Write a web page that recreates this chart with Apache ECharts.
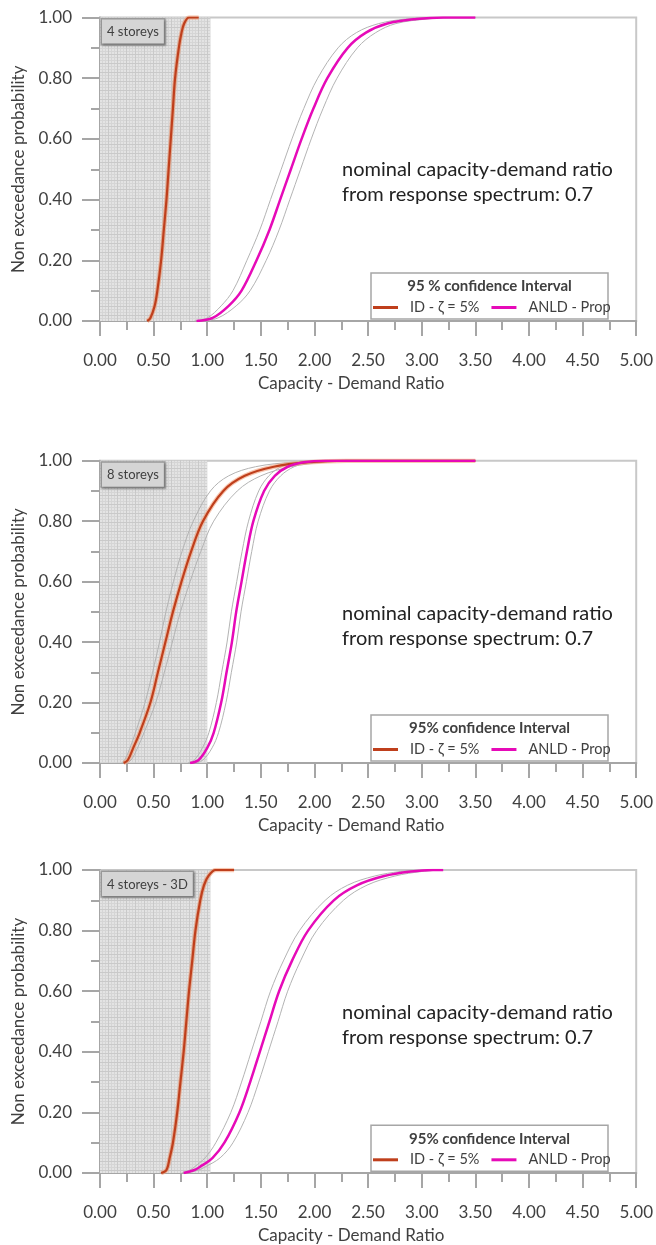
<!DOCTYPE html>
<html>
<head>
<meta charset="utf-8">
<script src="https://cdn.jsdelivr.net/npm/echarts@6/dist/echarts.min.js"></script>
<style>html,body{margin:0;padding:0;background:#fff}#c{width:656px;height:1245px}</style>
</head>
<body>
<div id="c"></div>
<script>
// ---------- DATA ----------
const xTicks = [0, 0.5, 1, 1.5, 2, 2.5, 3, 3.5, 4, 4.5, 5];
const yTicks = [0, 0.2, 0.4, 0.6, 0.8, 1.0];
const panelLabels = ['4 storeys', '8 storeys', '4 storeys - 3D'];
const legendTitles = ['95 % confidence Interval', '95% confidence Interval', '95% confidence Interval'];
const seriesNames = ['ID - \u03b6 = 5%', 'ANLD - Prop'];
const noteLines = ['nominal capacity-demand ratio', 'from response spectrum: 0.7'];
const shadedUpTo = [1.03, 1.0, 1.03];

// Panel 1 : 4 storeys
const p1_id = [[0.44,0],[0.47,0.01],[0.51,0.05],[0.535,0.10],[0.57,0.20],[0.595,0.30],[0.62,0.40],[0.64,0.50],[0.66,0.60],[0.68,0.70],[0.70,0.80],[0.735,0.90],[0.76,0.95],[0.785,0.98],[0.83,1.0],[0.92,1.0]];
const p1_id_lo = [[0.43,0],[0.46,0.01],[0.50,0.05],[0.523,0.10],[0.558,0.20],[0.583,0.30],[0.608,0.40],[0.628,0.50],[0.648,0.60],[0.668,0.70],[0.688,0.80],[0.723,0.90],[0.748,0.95],[0.773,0.98],[0.82,1.0],[0.92,1.0]];
const p1_id_hi = [[0.45,0],[0.48,0.01],[0.52,0.05],[0.547,0.10],[0.582,0.20],[0.607,0.30],[0.632,0.40],[0.652,0.50],[0.672,0.60],[0.692,0.70],[0.712,0.80],[0.747,0.90],[0.772,0.95],[0.797,0.98],[0.84,1.0],[0.92,1.0]];
const p1_anld = [[0.90,0],[1.05,0.01],[1.20,0.05],[1.32,0.10],[1.46,0.20],[1.58,0.30],[1.68,0.40],[1.78,0.50],[1.88,0.60],[1.99,0.70],[2.12,0.80],[2.31,0.90],[2.48,0.95],[2.68,0.98],[2.95,0.995],[3.20,1.0],[3.50,1.0]];
const p1_anld_lo = [[0.88,0],[1.00,0.01],[1.13,0.05],[1.24,0.10],[1.37,0.20],[1.49,0.30],[1.59,0.40],[1.69,0.50],[1.79,0.60],[1.90,0.70],[2.03,0.80],[2.22,0.90],[2.39,0.95],[2.60,0.98],[2.85,0.995],[3.10,1.0],[3.50,1.0]];
const p1_anld_hi = [[0.95,0],[1.10,0.01],[1.27,0.05],[1.40,0.10],[1.55,0.20],[1.67,0.30],[1.77,0.40],[1.87,0.50],[1.97,0.60],[2.08,0.70],[2.21,0.80],[2.40,0.90],[2.57,0.95],[2.76,0.98],[3.05,0.995],[3.30,1.0],[3.50,1.0]];

// Panel 2 : 8 storeys
const p2_id = [[0.22,0],[0.26,0.01],[0.31,0.05],[0.37,0.10],[0.47,0.20],[0.54,0.30],[0.61,0.40],[0.68,0.50],[0.76,0.60],[0.85,0.70],[0.96,0.80],[1.15,0.90],[1.35,0.95],[1.62,0.98],[1.95,0.995],[2.30,1.0],[3.50,1.0]];
const p2_id_lo = [[0.20,0],[0.23,0.01],[0.28,0.05],[0.33,0.10],[0.42,0.20],[0.49,0.30],[0.555,0.40],[0.615,0.50],[0.685,0.60],[0.765,0.70],[0.87,0.80],[1.03,0.90],[1.20,0.95],[1.45,0.98],[1.80,0.995],[2.20,1.0],[3.50,1.0]];
const p2_id_hi = [[0.24,0],[0.29,0.01],[0.35,0.05],[0.41,0.10],[0.52,0.20],[0.60,0.30],[0.675,0.40],[0.75,0.50],[0.84,0.60],[0.94,0.70],[1.06,0.80],[1.28,0.90],[1.50,0.95],[1.78,0.98],[2.10,0.995],[2.45,1.0],[3.50,1.0]];
const p2_anld = [[0.84,0],[0.92,0.01],[1.00,0.05],[1.06,0.10],[1.13,0.20],[1.18,0.30],[1.23,0.40],[1.27,0.50],[1.32,0.60],[1.37,0.70],[1.43,0.80],[1.53,0.90],[1.63,0.95],[1.75,0.98],[1.90,0.995],[2.10,1.0],[3.50,1.0]];
const p2_anld_lo = [[0.82,0],[0.88,0.01],[0.955,0.05],[1.015,0.10],[1.085,0.20],[1.135,0.30],[1.185,0.40],[1.225,0.50],[1.275,0.60],[1.325,0.70],[1.385,0.80],[1.48,0.90],[1.575,0.95],[1.69,0.98],[1.84,0.995],[2.00,1.0],[3.50,1.0]];
const p2_anld_hi = [[0.88,0],[0.96,0.01],[1.045,0.05],[1.105,0.10],[1.175,0.20],[1.225,0.30],[1.275,0.40],[1.315,0.50],[1.365,0.60],[1.415,0.70],[1.475,0.80],[1.58,0.90],[1.685,0.95],[1.81,0.98],[1.96,0.995],[2.20,1.0],[3.50,1.0]];

// Panel 3 : 4 storeys - 3D
const p3_id = [[0.57,0],[0.62,0.01],[0.65,0.05],[0.68,0.10],[0.72,0.20],[0.75,0.30],[0.78,0.40],[0.805,0.50],[0.83,0.60],[0.86,0.70],[0.89,0.80],[0.935,0.90],[0.97,0.95],[1.01,0.98],[1.08,1.0],[1.25,1.0]];
const p3_id_lo = [[0.56,0],[0.608,0.01],[0.638,0.05],[0.668,0.10],[0.708,0.20],[0.738,0.30],[0.768,0.40],[0.793,0.50],[0.818,0.60],[0.848,0.70],[0.878,0.80],[0.923,0.90],[0.958,0.95],[0.998,0.98],[1.07,1.0],[1.25,1.0]];
const p3_id_hi = [[0.58,0],[0.632,0.01],[0.662,0.05],[0.692,0.10],[0.732,0.20],[0.762,0.30],[0.792,0.40],[0.817,0.50],[0.842,0.60],[0.872,0.70],[0.902,0.80],[0.947,0.90],[0.982,0.95],[1.022,0.98],[1.09,1.0],[1.25,1.0]];
const p3_anld = [[0.78,0],[0.88,0.01],[0.93,0.02],[1.05,0.05],[1.16,0.10],[1.30,0.20],[1.40,0.30],[1.49,0.40],[1.58,0.50],[1.67,0.60],[1.79,0.70],[1.94,0.80],[2.18,0.90],[2.40,0.95],[2.65,0.98],[2.90,0.995],[3.10,1.0],[3.20,1.0]];
const p3_anld_lo = [[0.76,0],[0.84,0.01],[0.88,0.02],[0.98,0.05],[1.08,0.10],[1.22,0.20],[1.32,0.30],[1.41,0.40],[1.50,0.50],[1.59,0.60],[1.71,0.70],[1.86,0.80],[2.10,0.90],[2.31,0.95],[2.56,0.98],[2.80,0.995],[3.00,1.0],[3.20,1.0]];
const p3_anld_hi = [[0.80,0],[0.92,0.01],[0.98,0.02],[1.12,0.05],[1.24,0.10],[1.38,0.20],[1.48,0.30],[1.57,0.40],[1.66,0.50],[1.75,0.60],[1.87,0.70],[2.02,0.80],[2.27,0.90],[2.49,0.95],[2.75,0.98],[3.00,0.995],[3.20,1.0]];

const panels = [
  {id: p1_id, idLo: p1_id_lo, idHi: p1_id_hi, an: p1_anld, anLo: p1_anld_lo, anHi: p1_anld_hi},
  {id: p2_id, idLo: p2_id_lo, idHi: p2_id_hi, an: p2_anld, anLo: p2_anld_lo, anHi: p2_anld_hi},
  {id: p3_id, idLo: p3_id_lo, idHi: p3_id_hi, an: p3_anld, anLo: p3_anld_lo, anHi: p3_anld_hi}
];

// ---------- LAYOUT / STYLE ----------
const FONT = 'Lato';
const TXT = '#404040';
const AX = '#a6a6a6';
const RED = '#bf3f1c';
const MAG = '#e60ab8';
const CI = '#b3b3b3';
const gridPos = [
  {top: 17.5, height: 303.5},
  {top: 460.7, height: 302.3},
  {top: 870, height: 303.3}
];
const noteY = [170, 614, 1013];

// hatched texture for the shaded zone
const pc = document.createElement('canvas');
pc.width = 9; pc.height = 9;
const g = pc.getContext('2d');
g.fillStyle = '#e3e3e3'; g.fillRect(0, 0, 9, 9);
g.fillStyle = '#d5d5d5';
for (let k = 0; k < 9; k += 3) { g.fillRect(k, 0, 1, 9); g.fillRect(0, k, 9, 1); }
g.fillStyle = '#c9c9c9'; g.fillRect(0, 0, 1, 9); g.fillRect(0, 0, 9, 1);

const chart = echarts.init(document.getElementById('c'), null, {renderer: 'canvas'});

const grids = [], xAxes = [], yAxes = [], series = [], legends = [], graphics = [];
gridPos.forEach((gp, i) => {
  grids.push({left: 100, right: 18, top: gp.top, height: gp.height, show: true,
    borderColor: '#c8c8c8', borderWidth: 2, backgroundColor: 'transparent'});
  xAxes.push({
    type: 'value', gridIndex: i, min: xTicks[0], max: xTicks[xTicks.length - 1], interval: 0.5,
    axisLine: {show: true, lineStyle: {color: AX, width: 2}},
    axisTick: {show: true, length: 15, lineStyle: {color: AX, width: 2}},
    minorTick: {show: true, splitNumber: 2, length: 9, lineStyle: {color: AX, width: 2}},
    splitLine: {show: false},
    axisLabel: {formatter: v => v.toFixed(2), fontFamily: FONT, fontSize: 17, color: TXT, margin: 31},
    name: 'Capacity - Demand Ratio', nameLocation: 'middle', nameGap: 54,
    nameTextStyle: {fontFamily: FONT, fontSize: 17, color: TXT, padding: [0, 34, 0, 0]}
  });
  yAxes.push({
    type: 'value', gridIndex: i, min: yTicks[0], max: yTicks[yTicks.length - 1], interval: 0.2,
    axisLine: {show: true, lineStyle: {color: AX, width: 2}},
    axisTick: {show: true, length: 18, lineStyle: {color: AX, width: 2}},
    minorTick: {show: true, splitNumber: 2, length: 9, lineStyle: {color: AX, width: 2}},
    splitLine: {show: false},
    axisLabel: {formatter: v => v.toFixed(2), fontFamily: FONT, fontSize: 17, color: TXT, margin: 28},
    name: 'Non exceedance probability', nameLocation: 'middle', nameGap: 71, nameRotate: 90,
    nameTextStyle: {fontFamily: FONT, fontSize: 17, color: TXT}
  });
  const P = panels[i];
  // shaded zone
  series.push({type: 'line', xAxisIndex: i, yAxisIndex: i, data: [], z: 1, silent: true,
    markArea: {silent: true, itemStyle: {color: {image: pc, repeat: 'repeat'}},
      data: [[{xAxis: 0, yAxis: 0}, {xAxis: shadedUpTo[i], yAxis: 1}]]}});
  const base = {type: 'line', xAxisIndex: i, yAxisIndex: i, showSymbol: false, symbol: 'none',
    smooth: 0.35, clip: true, silent: true, animation: false};
  series.push(Object.assign({}, base, {name: 'ci', data: P.idLo, z: 3, lineStyle: {color: CI, width: 1}}));
  series.push(Object.assign({}, base, {name: 'ci', data: P.idHi, z: 3, lineStyle: {color: CI, width: 1}}));
  series.push(Object.assign({}, base, {name: 'ci', data: P.anLo, z: 3, lineStyle: {color: CI, width: 1}}));
  series.push(Object.assign({}, base, {name: 'ci', data: P.anHi, z: 3, lineStyle: {color: CI, width: 1}}));
  series.push(Object.assign({}, base, {name: 'halo', data: P.id, z: 4, lineStyle: {color: '#f3a07c', width: 4.5, opacity: 0.6}}));
  series.push(Object.assign({}, base, {name: seriesNames[0], data: P.id, z: 5, color: RED, lineStyle: {color: RED, width: 2.2}}));
  series.push(Object.assign({}, base, {name: seriesNames[1], data: P.an, z: 5, color: MAG, lineStyle: {color: MAG, width: 2.5}}));

  const bottom = gp.top + gp.height;
  const boxTop = bottom - 48;
  graphics.push({type: 'rect', z: 10, shape: {x: 371, y: boxTop, width: 237, height: 46},
    style: {fill: '#ffffff', stroke: '#a6a6a6', lineWidth: 1.5}});
  graphics.push({type: 'text', z: 11, x: 489.5, y: boxTop + 13.5,
    style: {text: legendTitles[i], font: 'bold 15px ' + FONT, fill: TXT, align: 'center', verticalAlign: 'middle'}});
  legends.push({left: 373, top: boxTop + 27, padding: 0, itemGap: 12, itemWidth: 25, itemHeight: 3,
    icon: 'rect', z: 12, data: seriesNames, selectedMode: false,
    textStyle: {fontFamily: FONT, fontSize: 14.5, color: TXT, padding: [0, 0, 0, 7]}});
  // panel tag
  graphics.push({type: 'text', z: 11, x: 102, y: gp.top + 2,
    style: {text: panelLabels[i], font: '13px ' + FONT, fill: TXT, backgroundColor: '#d5d5d5',
      borderColor: '#9a9a9a', borderWidth: 1.5, padding: [6, 5, 5, 5],
      shadowColor: 'rgba(0,0,0,0.25)', shadowBlur: 2, shadowOffsetX: 1, shadowOffsetY: 1}});
  // note
  graphics.push({type: 'text', z: 11, x: 342, y: noteY[i] - 12.5,
    style: {text: noteLines.join('\n'), font: '20px ' + FONT, fill: '#222222', lineHeight: 25, verticalAlign: 'top'}});
});

chart.setOption({
  backgroundColor: '#ffffff',
  animation: false,
  textStyle: {fontFamily: FONT},
  grid: grids, xAxis: xAxes, yAxis: yAxes, series: series, legend: legends, graphic: graphics
});
</script>
</body>
</html>
